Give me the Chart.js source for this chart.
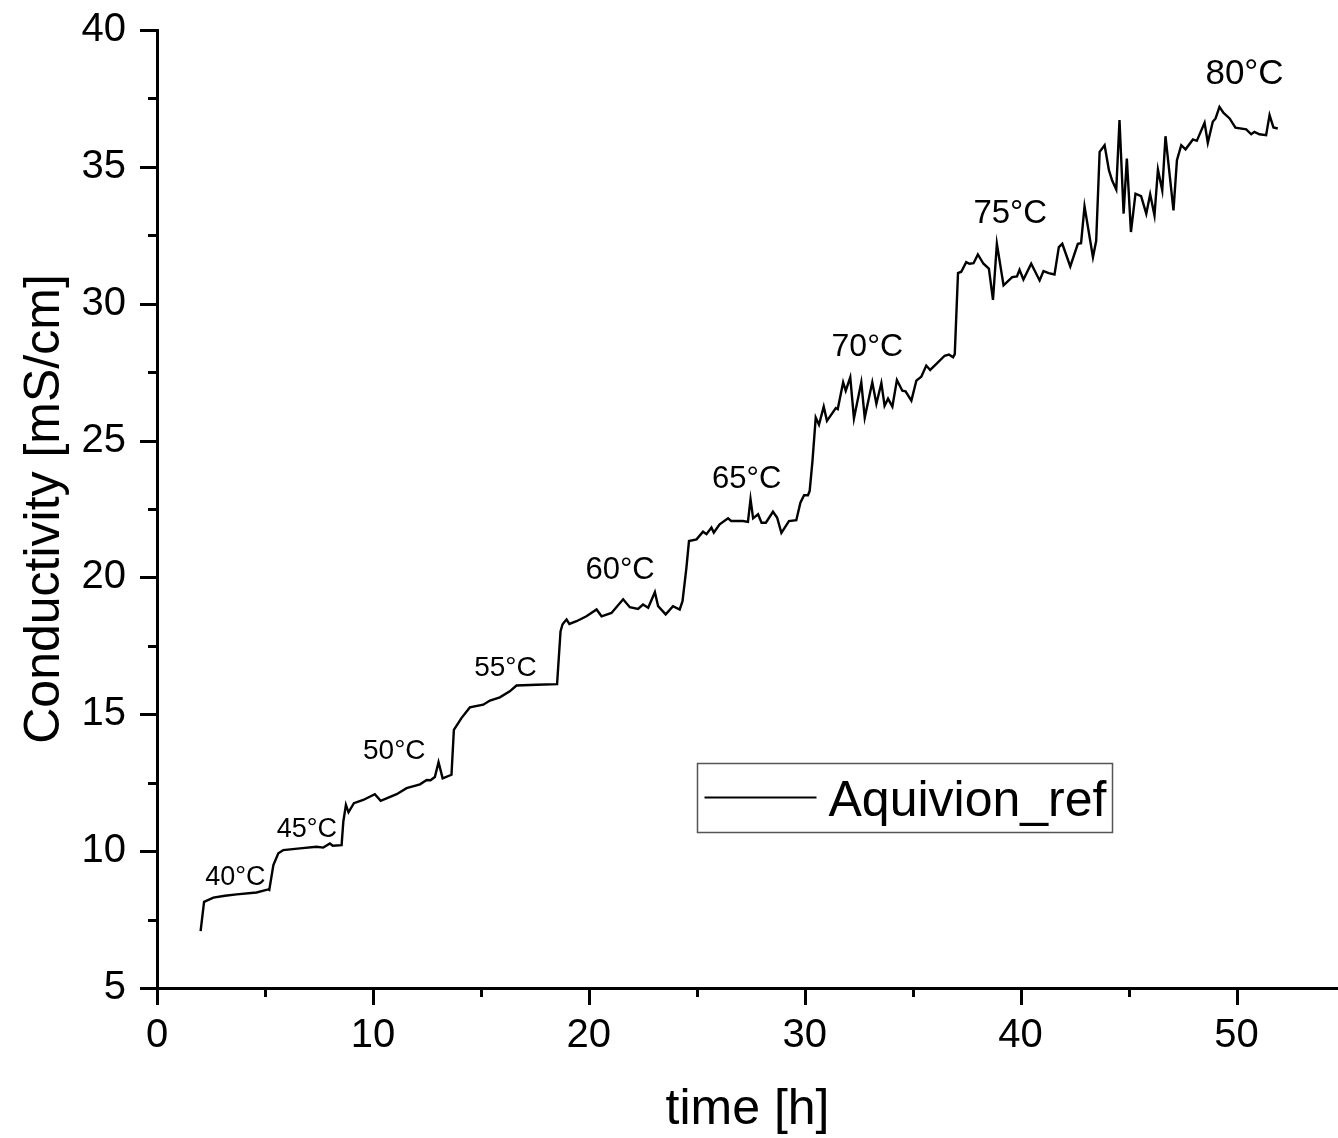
<!DOCTYPE html>
<html>
<head>
<meta charset="utf-8">
<title>Aquivion_ref conductivity vs time</title>
<script src="https://cdn.jsdelivr.net/npm/chart.js@4.4.1/dist/chart.umd.min.js"></script>
<style>
  html, body { margin: 0; padding: 0; background: #ffffff; }
  #wrap { width: 1338px; height: 1138px; }
</style>
</head>
<body>
<div id="wrap"><canvas id="chart" width="1338" height="1138"></canvas></div>
<script>
// Measured series: time on stream [h] and in-plane conductivity [mS/cm]
const seriesName = 'Aquivion_ref';

const timeH = [
  2.02, 2.18, 2.61, 3.15, 3.69, 4.61, 5.15, 5.20, 5.39, 5.62,
  5.85, 6.62, 7.39, 7.70, 8.01, 8.14, 8.55, 8.63, 8.75, 8.87,
  9.12, 9.55, 10.09, 10.36, 11.10, 11.56, 12.18, 12.49, 12.67, 12.87,
  13.04, 13.23, 13.64, 13.75, 14.10, 14.49, 15.11, 15.42, 15.88, 16.34,
  16.65, 17.58, 18.53, 18.69, 18.78, 18.85, 18.97, 19.10, 19.43, 19.89,
  20.36, 20.59, 21.05, 21.59, 21.90, 22.28, 22.51, 22.75, 23.06, 23.21,
  23.56, 23.90, 24.21, 24.34, 24.52, 24.64, 24.99, 25.29, 25.45, 25.68,
  25.79, 26.06, 26.45, 26.60, 27.14, 27.37, 27.49, 27.61, 27.84, 28.00,
  28.20, 28.53, 28.72, 28.92, 29.27, 29.61, 29.80, 29.97, 30.15, 30.23,
  30.36, 30.51, 30.66, 30.88, 31.03, 31.44, 31.53, 31.78, 31.90, 32.11,
  32.28, 32.62, 32.78, 33.13, 33.32, 33.55, 33.70, 33.86, 34.06, 34.27,
  34.52, 34.67, 34.94, 35.17, 35.40, 35.63, 35.81, 36.10, 36.48, 36.68,
  36.87, 36.95, 37.10, 37.25, 37.48, 37.63, 37.82, 38.02, 38.28, 38.53,
  38.72, 38.90, 39.21, 39.61, 39.83, 39.95, 40.13, 40.49, 40.88, 41.06,
  41.30, 41.57, 41.77, 41.93, 42.30, 42.65, 42.80, 42.96, 43.35, 43.50,
  43.66, 43.89, 44.09, 44.24, 44.43, 44.58, 44.77, 44.92, 45.11, 45.32,
  45.58, 45.82, 46.00, 46.20, 46.36, 46.56, 46.71, 47.08, 47.24, 47.44,
  47.64, 47.98, 48.16, 48.52, 48.67, 48.90, 49.03, 49.21, 49.40, 49.68,
  49.95, 50.45, 50.68, 50.83, 51.06, 51.37, 51.53, 51.71, 51.91
];

const conductivity = [
  7.08, 8.15, 8.30, 8.37, 8.42, 8.49, 8.60, 8.58, 9.49, 9.92,
  10.04, 10.10, 10.16, 10.13, 10.28, 10.20, 10.22, 11.08, 11.69, 11.42,
  11.75, 11.87, 12.08, 11.84, 12.08, 12.30, 12.44, 12.60, 12.59, 12.71,
  13.25, 12.66, 12.79, 14.43, 14.86, 15.25, 15.35, 15.50, 15.62, 15.84,
  16.05, 16.08, 16.10, 18.03, 18.28, 18.35, 18.46, 18.30, 18.40, 18.58,
  18.83, 18.58, 18.70, 19.20, 18.91, 18.85, 19.01, 18.89, 19.46, 18.95,
  18.65, 18.95, 18.83, 19.13, 20.35, 21.33, 21.39, 21.67, 21.58, 21.82,
  21.64, 21.94, 22.16, 22.06, 22.06, 22.03, 22.86, 22.16, 22.31, 22.00,
  22.00, 22.40, 22.19, 21.63, 22.06, 22.09, 22.73, 23.00, 23.00, 23.16,
  24.26, 25.84, 25.58, 26.24, 25.72, 26.19, 26.15, 27.13, 26.82, 27.31,
  25.81, 27.13, 25.84, 27.13, 26.34, 27.10, 26.27, 26.53, 26.24, 27.21,
  26.82, 26.80, 26.46, 27.19, 27.33, 27.74, 27.58, 27.80, 28.10, 28.14,
  28.04, 28.16, 31.12, 31.17, 31.52, 31.46, 31.48, 31.80, 31.46, 31.28,
  30.14, 32.19, 30.67, 30.97, 31.00, 31.24, 30.88, 31.46, 30.85, 31.19,
  31.12, 31.07, 32.07, 32.19, 31.36, 32.19, 32.21, 33.56, 31.70, 32.30,
  35.55, 35.79, 34.88, 34.50, 34.17, 36.71, 33.29, 35.30, 32.62, 34.02,
  33.93, 33.29, 34.00, 33.23, 34.90, 34.14, 36.12, 33.41, 35.24, 35.79,
  35.64, 36.00, 35.95, 36.61, 35.88, 36.65, 36.77, 37.19, 36.97, 36.77,
  36.43, 36.37, 36.19, 36.28, 36.19, 36.16, 36.89, 36.44, 36.40
];

// Temperature set-points written above each plateau, anchored in data units
const stepLabels = ['40°C', '45°C', '50°C', '55°C', '60°C', '65°C', '70°C', '75°C', '80°C'];
const stepLabelTime = [3.63, 6.94, 10.99, 16.14, 21.45, 27.31, 32.90, 39.52, 50.37];
const stepLabelCond = [8.76, 10.53, 13.37, 16.41, 19.93, 23.26, 28.10, 32.95, 38.02];

// Axis ranges and ticks
const xRange = [0, 54.7];
const yRange = [5, 40];
const xMajorStep = 10, xMinorStep = 5;
const yMajorStep = 5, yMinorStep = 2.5;

const FONT = "'Liberation Sans', Arial, Helvetica, sans-serif";

// Outward major/minor tick marks in the Origin style
const tickMarks = {
  id: 'tickMarks',
  afterDraw(chart) {
    const { ctx, scales: { x, y } } = chart;
    ctx.save();
    ctx.strokeStyle = '#000';
    ctx.lineWidth = 3;
    ctx.lineCap = 'butt';
    x.ticks.forEach(t => {
      const px = Math.round(x.getPixelForValue(t.value)) + 0.5;
      const len = Math.abs(t.value % xMajorStep) < 1e-9 ? 17 : 9;
      ctx.beginPath();
      ctx.moveTo(px, x.top);
      ctx.lineTo(px, x.top + len);
      ctx.stroke();
    });
    y.ticks.forEach(t => {
      const py = Math.round(y.getPixelForValue(t.value)) + 0.5;
      const len = Math.abs(t.value % yMajorStep) < 1e-9 ? 17 : 9;
      ctx.beginPath();
      ctx.moveTo(y.right, py);
      ctx.lineTo(y.right - len, py);
      ctx.stroke();
    });
    ctx.restore();
  }
};

// Temperature annotations
const labelSizes = [27, 27, 28, 28, 31, 31, 32, 33, 35];
const stepLabelPlugin = {
  id: 'stepLabelPlugin',
  afterDatasetsDraw(chart) {
    const { ctx, scales: { x, y } } = chart;
    ctx.save();
    ctx.fillStyle = '#000';
    ctx.textAlign = 'center';
    ctx.textBaseline = 'alphabetic';
    stepLabels.forEach((txt, i) => {
      ctx.font = labelSizes[i] + 'px ' + FONT;
      ctx.fillText(txt, x.getPixelForValue(stepLabelTime[i]), y.getPixelForValue(stepLabelCond[i]));
    });
    ctx.restore();
  }
};

// Framed legend placed inside the plot area
const boxLegend = {
  id: 'boxLegend',
  afterDraw(chart) {
    const { ctx, chartArea } = chart;
    const ds = chart.data.datasets[0];
    const left = chartArea.left + 540.5, top = chartArea.top + 733.5;
    const w = 415, h = 69;
    ctx.save();
    ctx.fillStyle = '#fff';
    ctx.fillRect(left, top, w, h);
    ctx.strokeStyle = '#555';
    ctx.lineWidth = 1.5;
    ctx.strokeRect(left, top, w, h);
    ctx.strokeStyle = ds.borderColor;
    ctx.lineWidth = 2;
    ctx.beginPath();
    ctx.moveTo(left + 7, top + 34);
    ctx.lineTo(left + 119, top + 34);
    ctx.stroke();
    ctx.fillStyle = '#000';
    ctx.font = '50px ' + FONT;
    ctx.textAlign = 'left';
    ctx.textBaseline = 'alphabetic';
    ctx.fillText(ds.label, left + 131, top + 52);
    ctx.restore();
  }
};

const points = timeH.map((t, i) => ({ x: t, y: conductivity[i] }));

new Chart(document.getElementById('chart').getContext('2d'), {
  type: 'scatter',
  data: {
    datasets: [{
      label: seriesName,
      data: points,
      showLine: true,
      borderColor: '#000',
      backgroundColor: '#000',
      borderWidth: 2.4,
      pointRadius: 0,
      pointHoverRadius: 0,
      tension: 0,
      fill: false
    }]
  },
  options: {
    responsive: false,
    animation: false,
    devicePixelRatio: 1,
    layout: { padding: { top: 30, right: 0, bottom: 0, left: 0 } },
    plugins: { legend: { display: false }, tooltip: { enabled: false } },
    scales: {
      x: {
        type: 'linear',
        position: 'bottom',
        min: xRange[0],
        max: xRange[1],
        afterFit(s) { s.height = 150; s.paddingLeft = 0; s.paddingRight = 0; },
        border: { display: true, color: '#000', width: 3 },
        grid: { display: true, drawOnChartArea: false, drawTicks: true, tickLength: 17, tickColor: 'rgba(0,0,0,0)' },
        ticks: {
          stepSize: xMinorStep,
          includeBounds: false,
          autoSkip: false,
          maxRotation: 0,
          padding: 7,
          color: '#000',
          font: { family: FONT, size: 40 },
          callback: v => (Math.abs(v % xMajorStep) < 1e-9 ? String(v) : '')
        },
        title: {
          display: true,
          text: 'time [h]',
          color: '#000',
          font: { family: FONT, size: 50, lineHeight: 1 },
          padding: { top: 0, bottom: 3 }
        }
      },
      y: {
        type: 'linear',
        position: 'left',
        min: yRange[0],
        max: yRange[1],
        afterFit(s) { s.width = 157; s.paddingTop = 0; s.paddingBottom = 0; },
        border: { display: true, color: '#000', width: 3 },
        grid: { display: true, drawOnChartArea: false, drawTicks: true, tickLength: 17, tickColor: 'rgba(0,0,0,0)' },
        ticks: {
          stepSize: yMinorStep,
          autoSkip: false,
          padding: 14,
          color: '#000',
          font: { family: FONT, size: 40 },
          callback: v => (Math.abs(v % yMajorStep) < 1e-9 ? String(v) : '')
        },
        title: {
          display: true,
          text: 'Conductivity [mS/cm]',
          color: '#000',
          font: { family: FONT, size: 50, lineHeight: 1 },
          padding: { top: 20, bottom: 0 }
        }
      }
    }
  },
  plugins: [tickMarks, stepLabelPlugin, boxLegend]
});
</script>
</body>
</html>
